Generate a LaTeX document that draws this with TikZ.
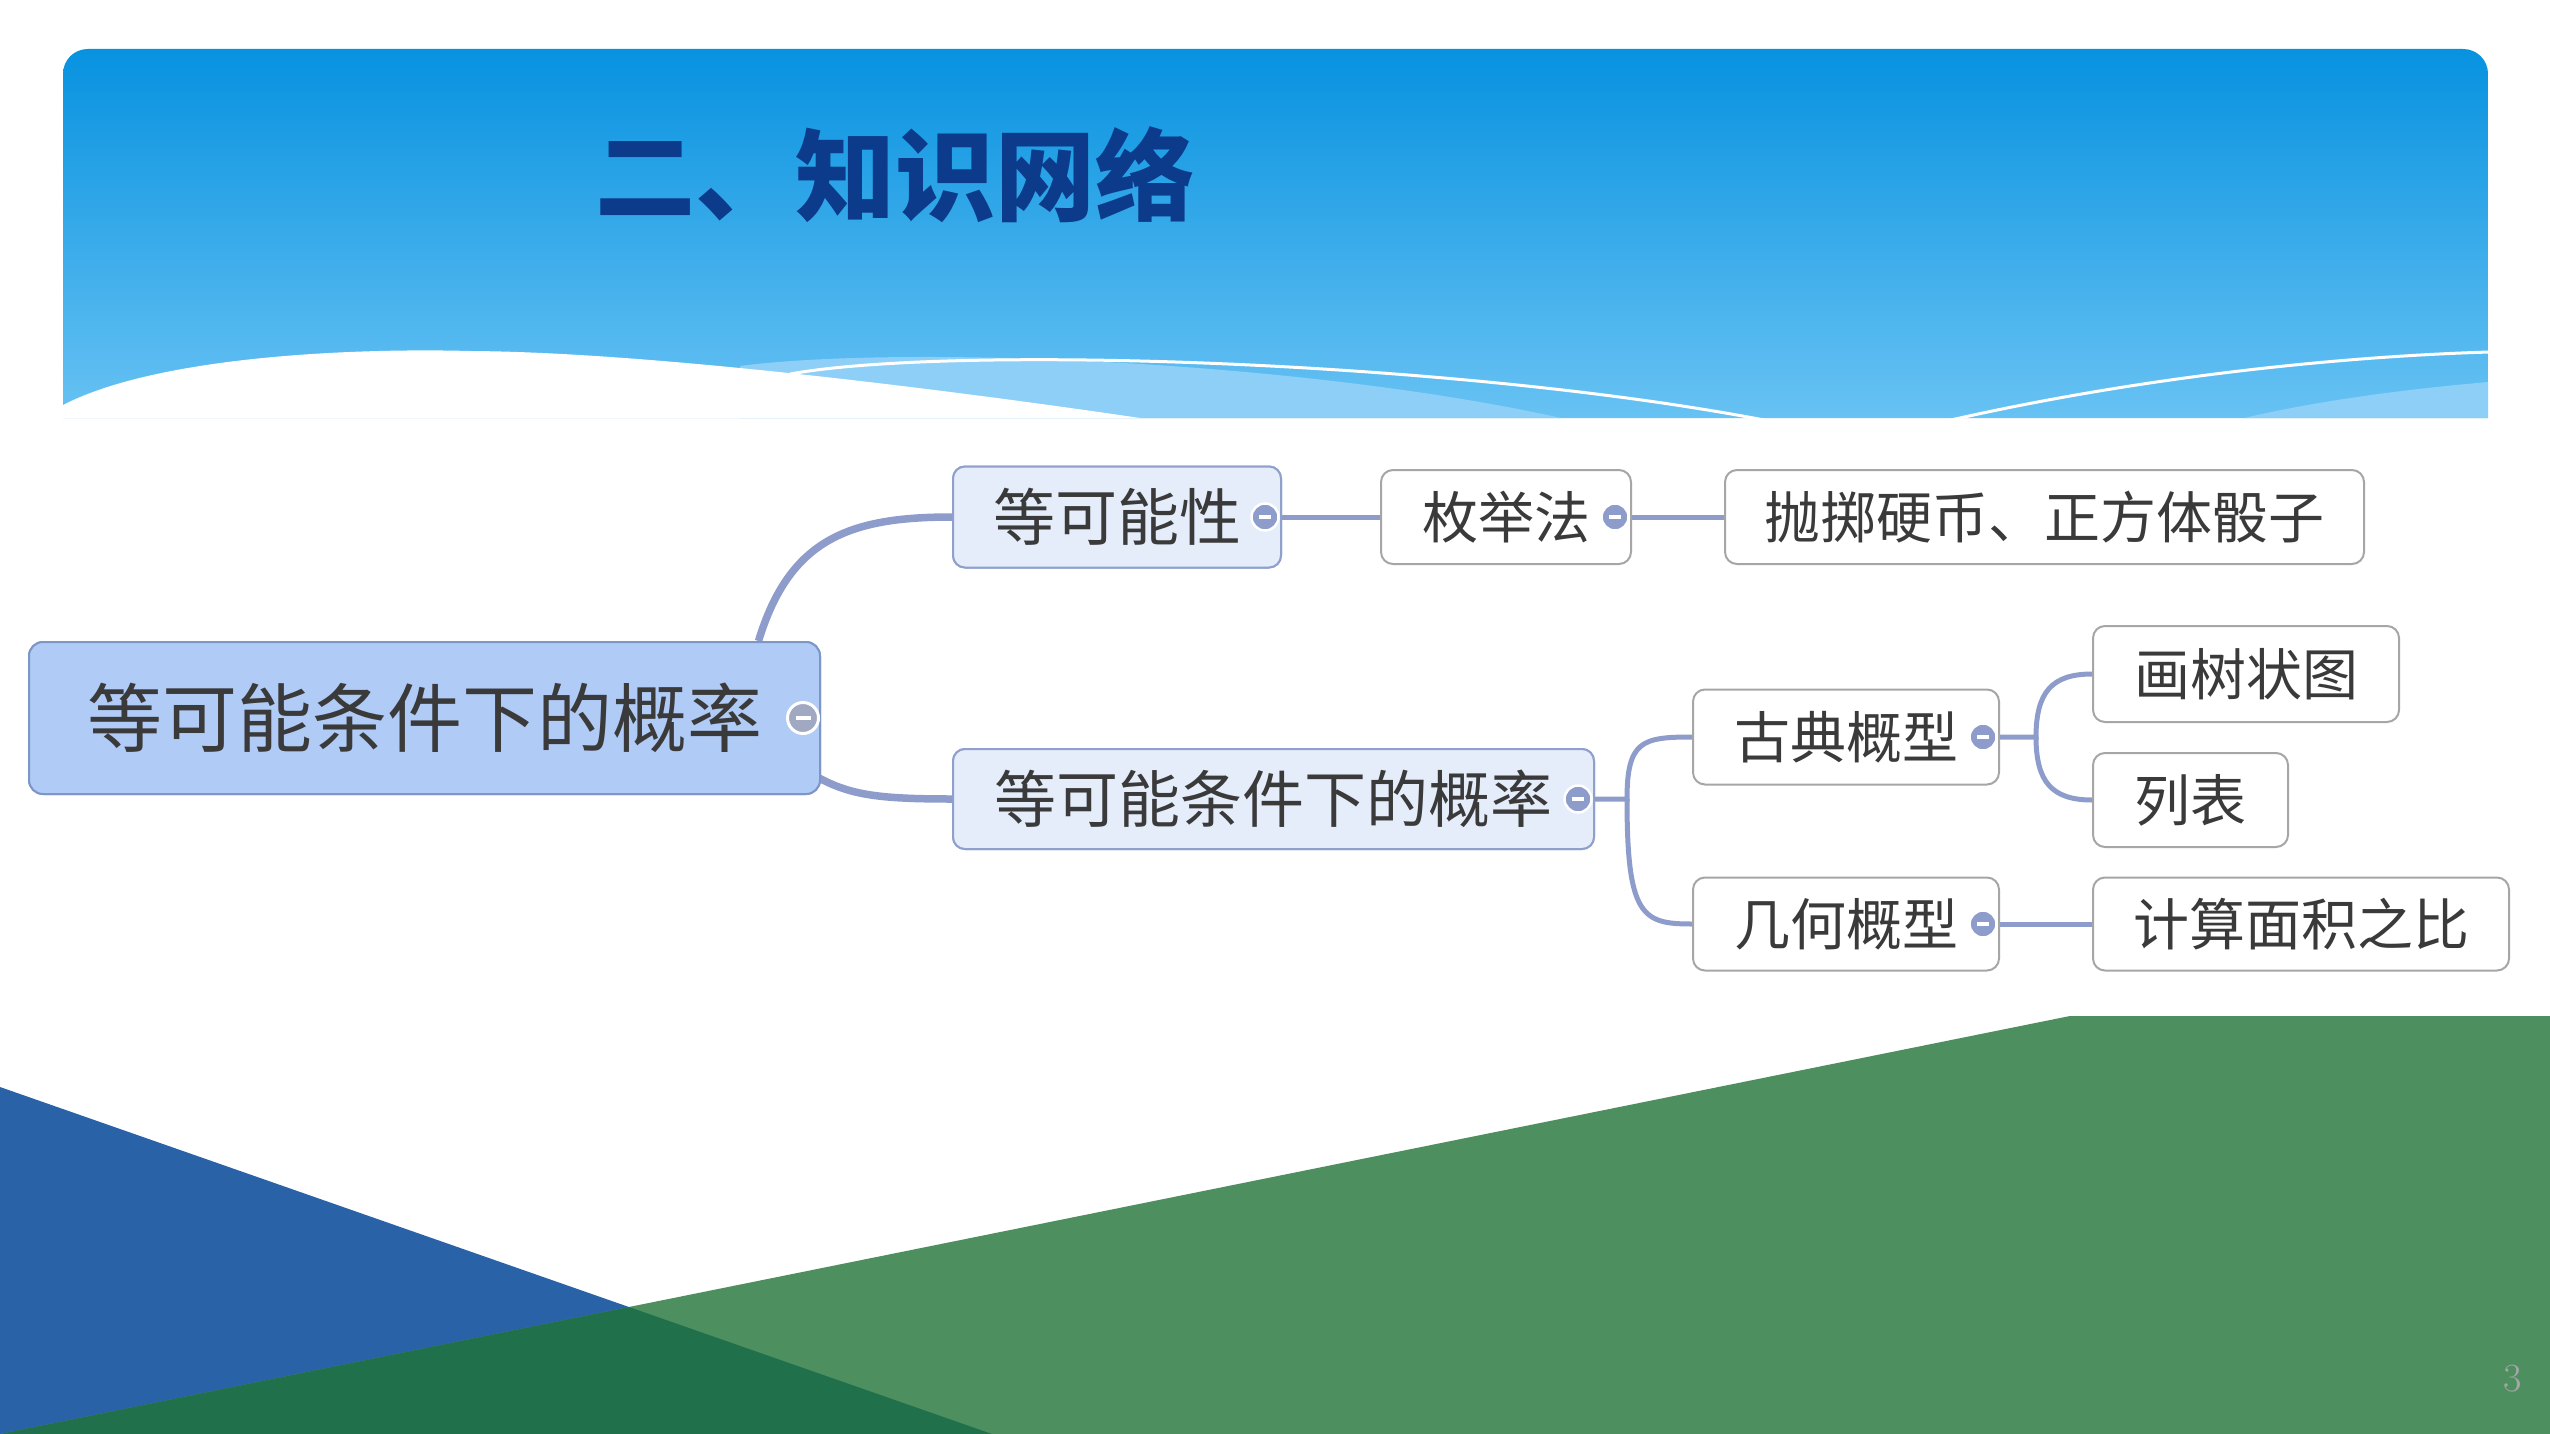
\documentclass[tikz,border=0pt]{standalone}
\usepackage{fontspec}
\newfontfamily\cjk{Noto Sans CJK SC}
\usetikzlibrary{calc}
\definecolor{hdtop}{HTML}{0792E0}
\definecolor{hdbot}{HTML}{68C2F3}
\definecolor{wavelight}{HTML}{8DCFF6}
\definecolor{titlecol}{HTML}{0C3B8B}
\definecolor{linkcol}{HTML}{8E9CCB}
\definecolor{rootfill}{HTML}{B0CBF6}
\definecolor{rootdraw}{HTML}{7D96C8}
\definecolor{rootcirc}{HTML}{A0A8C2}
\definecolor{midfill}{HTML}{E5EDFB}
\definecolor{middraw}{HTML}{8FA0CC}
\definecolor{leafdraw}{HTML}{A6A6A6}
\definecolor{txt}{HTML}{3A3A3A}
\definecolor{btmblue}{HTML}{2A62A8}
\definecolor{btmgreen}{HTML}{4E8F5F}
\definecolor{btmdark}{HTML}{20704C}
\begin{document}
\begin{tikzpicture}[x=1pt,y=-1pt,
  rootbox/.style={draw=rootdraw, line width=2pt, fill=rootfill, rounded corners=14pt, inner sep=0pt, text=txt, font=\cjk\fontsize{75}{80}\selectfont},
  midbox/.style={draw=middraw, line width=2pt, fill=midfill, rounded corners=12pt, inner sep=0pt, text=txt, font=\cjk\fontsize{62}{66}\selectfont},
  leafbox/.style={draw=leafdraw, line width=2pt, fill=white, rounded corners=12pt, inner sep=0pt, text=txt, font=\cjk\fontsize{56}{60}\selectfont},
  link/.style={draw=linkcol, line width=5pt},
  rootlink/.style={draw=linkcol, line width=7.5pt},
  collapse/.style={circle, fill=linkcol, draw=white, line width=2.5pt, minimum size=27pt, inner sep=0pt},
  rootcollapse/.style={circle, fill=rootcirc, draw=white, line width=3pt, minimum size=31pt, inner sep=0pt},
]
\useasboundingbox (0,0) rectangle (2550,1434);
\fill[white] (0,0) rectangle (2550,1434);
% header
\shade[top color=hdtop, bottom color=hdbot] (63,418) -- (63,74) .. controls (63,60) and (74,49) .. (88,49) -- (2463,49) .. controls (2477,49) and (2488,60) .. (2488,74) -- (2488,418) -- cycle;
\begin{scope}
\clip (63,250) rectangle (2488,418);
\fill[wavelight] (740,418) -- (740,366) .. controls (900,345) and (1300,360) .. (1561,418) -- cycle;
\fill[wavelight] (2244,418) .. controls (2330,398) and (2420,388) .. (2488,382) -- (2488,418) -- cycle;
\draw[white, line width=3pt] (790,374) .. controls (950,345) and (1450,360) .. (1764,420);
\draw[white, line width=3pt] (1951,420) .. controls (2150,375) and (2350,356) .. (2490,352);
\fill[white] (63,405) .. controls (160,355) and (360,348) .. (470,351) .. controls (650,352) and (950,390) .. (1140,418) -- (63,418) -- cycle;
\end{scope}
\node[font=\cjk\bfseries\fontsize{100}{100}\selectfont, text=titlecol, anchor=center] (title) at (895,175) {二、知识网络};
% bottom shapes
\fill[btmblue] (0,1087) -- (992,1434) -- (0,1434) -- cycle;
\fill[btmgreen] (0,1434) -- (2070,1016) -- (2550,1016) -- (2550,1434) -- cycle;
\fill[btmdark] (0,1434) -- (629,1307) -- (992,1434) -- cycle;
\node[text=black!35, font=\fontsize{40}{40}\selectfont] (pg) at (2513,1379) {3};
% nodes
\node[rootbox, minimum width=791pt, minimum height=152pt] (root) at (424.5,718) {等可能条件下的概率};
\node[midbox, minimum width=328pt, minimum height=101pt] (n1) at (1117,517) {等可能性};
\node[midbox, minimum width=641pt, minimum height=100pt] (n2) at (1273.5,799) {等可能条件下的概率};
\node[leafbox, minimum width=250pt, minimum height=94pt] (n3) at (1506,517) {枚举法};
\node[leafbox, minimum width=639pt, minimum height=94pt] (n4) at (2044.5,517) {抛掷硬币、正方体骰子};
\node[leafbox, minimum width=306pt, minimum height=95pt] (n5) at (1846,737) {古典概型};
\node[leafbox, minimum width=306pt, minimum height=93pt] (n6) at (1846,924) {几何概型};
\node[leafbox, minimum width=306pt, minimum height=96pt] (n7) at (2246,674) {画树状图};
\node[leafbox, minimum width=195pt, minimum height=94pt] (n8) at (2190.5,800) {列表};
\node[leafbox, minimum width=416pt, minimum height=93pt] (n9) at (2301,924) {计算面积之比};
% connectors
\draw[rootlink] ($(root.north)+(334,0)$) .. controls +(31,-102) and +(-103,0) .. (n1.west);
\draw[rootlink] ($(root.east)+(-2,60)$) .. controls +(32,17) and +(-73,0) .. (n2.west);
\draw[link] (n1.east) -- (n3.west);
\draw[link] (n3.east) -- (n4.west);
\draw[link] (n2.east) -- ++(32,0) coordinate (b1) .. controls +(0,-58) and +(-50,0) .. (n5.west);
\draw[link] (b1) .. controls +(0,117) and +(-50,0) .. (n6.west);
\draw[link] (n5.east) -- ++(36,0) coordinate (b2) .. controls +(0,-45) and +(-40,0) .. (n7.west);
\draw[link] (b2) .. controls +(0,45) and +(-40,0) .. (n8.west);
\draw[link] (n6.east) -- (n9.west);
% redraw boxes over connector ends
\node[rootbox, minimum width=791pt, minimum height=152pt] at (root) {等可能条件下的概率};
\node[midbox, minimum width=328pt, minimum height=101pt] at (n1) {等可能性};
\node[midbox, minimum width=641pt, minimum height=100pt] at (n2) {等可能条件下的概率};
% collapse markers
\node[rootcollapse] (c0) at ($(root.east)+(-18,0)$) {\textcolor{white}{\rule{15pt}{4pt}}};
\node[collapse] (c1) at ($(n1.east)+(-17,0)$) {\textcolor{white}{\rule{12pt}{3.5pt}}};
\node[collapse] (c2) at ($(n2.east)+(-17,0)$) {\textcolor{white}{\rule{12pt}{3.5pt}}};
\node[collapse] (c3) at ($(n3.east)+(-17,0)$) {\textcolor{white}{\rule{12pt}{3.5pt}}};
\node[collapse] (c5) at ($(n5.east)+(-17,0)$) {\textcolor{white}{\rule{12pt}{3.5pt}}};
\node[collapse] (c6) at ($(n6.east)+(-17,0)$) {\textcolor{white}{\rule{12pt}{3.5pt}}};
\end{tikzpicture}
\end{document}
